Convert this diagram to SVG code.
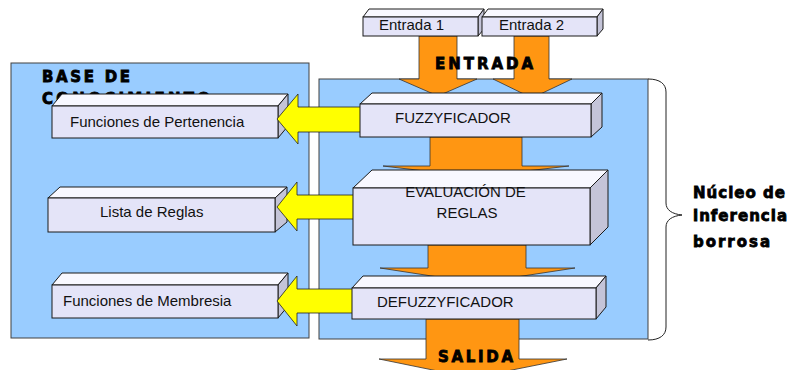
<svg xmlns="http://www.w3.org/2000/svg" width="797" height="370" viewBox="0 0 797 370">
<style>
.panel{fill:#99CCFF;stroke:#404040;stroke-width:1}
.front{fill:#E4E4F8;stroke:#1a1a1a;stroke-width:1}
.top{fill:#F8F8FF;stroke:#1a1a1a;stroke-width:1}
.side{fill:#C4C4D8;stroke:#1a1a1a;stroke-width:1}
.orange{fill:#FF9612;stroke:#333;stroke-width:0.8}
.yellow{fill:#FFFF00;stroke:#222;stroke-width:0.8}
.lbl{font-family:"Liberation Sans",Arial,sans-serif;font-size:15px;fill:#111}
.heavy{font-family:"DejaVu Sans","Liberation Sans",sans-serif;font-weight:bold;font-size:15px;fill:#000;stroke:#000;stroke-width:0.8}
</style>
<rect width="797" height="370" fill="#fff"/>
<g id="panel-base">
<rect class="panel" x="11" y="63" width="298" height="275"/>
<text class="heavy" x="42" y="82" font-size="16" textLength="88" lengthAdjust="spacing">BASE DE</text>
<text class="heavy" x="42" y="104" font-size="16" textLength="168" lengthAdjust="spacing">CONOCIMIENTO</text>
</g>
<g id="panel-nucleo">
<rect class="panel" x="319" y="79" width="329" height="260"/>
</g>
<g id="brace">
<path d="M648,79 C660,79 666,84 666,92 L666,203 C666,210 672,214 682,215 C672,216 666,220 666,227 L666,327 C666,335 660,340 648,340" fill="none" stroke="#222" stroke-width="1"/>
<text class="heavy" x="693" y="198" textLength="92" lengthAdjust="spacing">Núcleo de</text>
<text class="heavy" x="693" y="221" textLength="94" lengthAdjust="spacing">inferencia</text>
<text class="heavy" x="693" y="247" textLength="77" lengthAdjust="spacing">borrosa</text>
</g>
<g id="funciones-pertenencia">
<polygon class="top" points="52,106 62,94 288,94 278,106"/>
<polygon class="side" points="278,106 288,94 288,126 278,138"/>
<rect class="front" x="52" y="106" width="226" height="32"/>
<text class="lbl" x="70" y="127">Funciones de Pertenencia</text>
</g>
<g id="lista-reglas">
<polygon class="top" points="48,198 60,187 287,187 275,198"/>
<polygon class="side" points="275,198 287,187 287,222 275,232"/>
<rect class="front" x="48" y="198" width="227" height="34"/>
<text class="lbl" x="100" y="217">Lista de Reglas</text>
</g>
<g id="funciones-membresia">
<polygon class="top" points="52,285 62,273 288,273 278,285"/>
<polygon class="side" points="278,285 288,273 288,306 278,318"/>
<rect class="front" x="52" y="285" width="226" height="33"/>
<text class="lbl" x="63" y="306">Funciones de Membresia</text>
</g>
<g id="connectors">
<polygon class="yellow" points="277,119 298,94 298,107 365,107 365,132 298,132 298,144"/>
<polygon class="yellow" points="277,207 297,182 297,195 358,195 358,219 297,219 297,231"/>
<polygon class="yellow" points="277,301 297,276 297,289 357,289 357,313 297,313 297,326"/>
<polygon class="orange" points="419,36 457,36 457,79 477,79 438,96 399,79 419,79"/>
<polygon class="orange" points="514,36 549,36 549,79 572,79 532,98 493,79 514,79"/>
<polygon class="orange" points="430,137 522,137 522,166 569,166 475,177 383,166 430,166"/>
<polygon class="orange" points="428,245 526,245 526,268 575,268 477,283 380,268 428,268"/>
<polygon class="orange" points="426,319 519,319 519,359 567,359 472,378 379,359 426,359"/>
</g>
<g id="entrada1">
<polygon class="top" points="363,17 369,9 484,9 478,17"/>
<polygon class="side" points="478,17 484,9 484,29 478,36"/>
<rect class="front" x="363" y="17" width="115" height="19"/>
<text class="lbl" x="379" y="30" font-size="14">Entrada 1</text>
</g>
<g id="entrada2">
<polygon class="top" points="482,17 488,9 603,9 597,17"/>
<polygon class="side" points="597,17 603,9 603,29 597,36"/>
<rect class="front" x="482" y="17" width="115" height="19"/>
<text class="lbl" x="499" y="30" font-size="14">Entrada 2</text>
</g>
<g id="fuzzyficador">
<polygon class="top" points="360,104 372,93 602,93 591,104"/>
<polygon class="side" points="591,104 602,93 602,127 591,137"/>
<rect class="front" x="360" y="104" width="231" height="33"/>
<text class="lbl" x="395" y="123">FUZZYFICADOR</text>
</g>
<g id="evaluacion">
<polygon class="top" points="353,188 372,170 608,170 590,188"/>
<polygon class="side" points="590,188 608,170 608,227 590,245"/>
<rect class="front" x="353" y="188" width="237" height="57"/>
<text class="lbl" x="465.5" y="197" text-anchor="middle">EVALUACIÓN DE</text>
<text class="lbl" x="467" y="218" text-anchor="middle">REGLAS</text>
</g>
<g id="defuzzyficador">
<polygon class="top" points="352,288 363,276 606,276 596,288"/>
<polygon class="side" points="596,288 606,276 606,307 596,319"/>
<rect class="front" x="352" y="288" width="244" height="31"/>
<text class="lbl" x="377" y="307">DEFUZZYFICADOR</text>
</g>
<g id="labels">
<text class="heavy" x="435" y="69" textLength="98" lengthAdjust="spacing">ENTRADA</text>
<text class="heavy" x="438" y="362" font-size="16" textLength="75" lengthAdjust="spacing">SALIDA</text>
</g>
</svg>
